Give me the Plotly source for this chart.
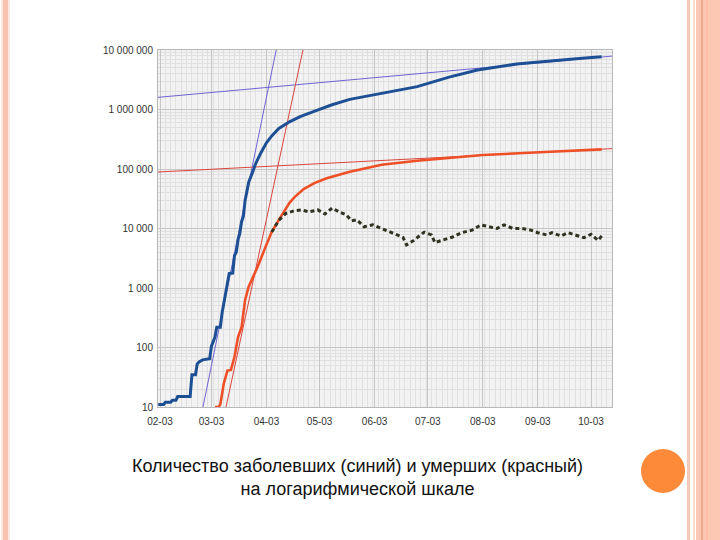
import plotly.graph_objects as go

# ---------------- data ----------------
cases_dates = ["2020-02-02", "2020-02-05", "2020-02-06", "2020-02-09", "2020-02-10", "2020-02-12",
               "2020-02-13", "2020-02-20", "2020-02-21", "2020-02-23", "2020-02-24", "2020-02-25",
               "2020-02-27", "2020-03-02", "2020-03-03", "2020-03-04", "2020-03-05", "2020-03-06",
               "2020-03-08", "2020-03-09", "2020-03-10", "2020-03-11", "2020-03-12", "2020-03-13",
               "2020-03-15", "2020-03-16", "2020-03-17", "2020-03-18", "2020-03-19", "2020-03-20",
               "2020-03-21", "2020-03-22", "2020-03-23", "2020-03-24", "2020-03-26", "2020-03-28",
               "2020-03-31", "2020-04-03", "2020-04-06", "2020-04-10", "2020-04-16", "2020-04-22",
               "2020-05-01", "2020-05-10", "2020-05-20", "2020-06-07", "2020-06-27", "2020-07-15",
               "2020-07-31", "2020-08-22", "2020-09-10", "2020-09-28", "2020-10-09"]
cases = [11, 11, 12, 12, 13, 13,
         15, 15, 35, 35, 53, 57,
         62, 65, 105, 125, 150, 220,
         220, 380, 560, 850, 1300, 1750,
         1780, 3500, 4000, 6500, 8300, 13000,
         16000, 30000, 42000, 60000, 85000, 125000,
         190000, 275000, 360000, 480000, 620000, 760000,
         960000, 1200000, 1480000, 1870000, 2420000, 3500000,
         4600000, 5800000, 6600000, 7250000, 7700000]

deaths_dates = ["2020-03-05", "2020-03-07", "2020-03-08", "2020-03-09", "2020-03-10", "2020-03-12",
                "2020-03-14", "2020-03-16", "2020-03-18", "2020-03-20", "2020-03-22", "2020-03-24",
                "2020-03-29", "2020-04-02", "2020-04-06", "2020-04-10", "2020-04-13", "2020-04-16",
                "2020-04-19", "2020-04-24", "2020-04-30", "2020-05-07", "2020-05-20", "2020-06-07",
                "2020-06-27", "2020-08-03", "2020-09-10", "2020-10-09"]
deaths = [10, 10, 11, 18, 25, 41,
          42, 70, 150, 220, 630, 1050,
          2250, 4500, 8800, 14000, 20000, 27000,
          34000, 46000, 58000, 70000, 90000, 118000,
          138000, 172000, 195000, 214000]

daily_dates = ["2020-04-06", "2020-04-10", "2020-04-14", "2020-04-19", "2020-04-23", "2020-04-27",
               "2020-05-02", "2020-05-06", "2020-05-10", "2020-05-14", "2020-05-18", "2020-05-21",
               "2020-05-24", "2020-05-28", "2020-06-02", "2020-06-07", "2020-06-13", "2020-06-19",
               "2020-06-21", "2020-06-25", "2020-07-01", "2020-07-05", "2020-07-07", "2020-07-11",
               "2020-07-17", "2020-07-22", "2020-07-28", "2020-08-02", "2020-08-07", "2020-08-11",
               "2020-08-15", "2020-08-20", "2020-08-25", "2020-08-30", "2020-09-03", "2020-09-08",
               "2020-09-11", "2020-09-16", "2020-09-20", "2020-09-25", "2020-09-29", "2020-10-03",
               "2020-10-07", "2020-10-09"]
daily = [8700, 13800, 18000, 20000, 20500, 19000,
         20500, 17500, 22000, 19000, 17000, 13500,
         14000, 10700, 11500, 10000, 8500, 7100,
         5300, 6300, 8700, 7800, 5800, 6300,
         7200, 8500, 9400, 11500, 10700, 10000,
         11500, 10000, 10000, 9400, 8500, 7800,
         8500, 7500, 8500, 7500, 7000, 8000,
         6300, 7500]

# trend lines (endpoints)
cases_fast_dates = ["2020-02-27 05:00", "2020-04-08 12:00"]
cases_fast = [10, 10000000]
cases_slow_dates = ["2020-02-01 21:00", "2020-10-14 20:00"]
cases_slow = [1600000, 7900000]
deaths_fast_dates = ["2020-03-11 05:00", "2020-04-23 14:00"]
deaths_fast = [10, 10000000]
deaths_slow_dates = ["2020-02-01 21:00", "2020-10-14 20:00"]
deaths_slow = [89000, 220000]

x_tickvals = ["2020-02-03", "2020-03-03", "2020-04-03", "2020-05-03", "2020-06-03",
              "2020-07-03", "2020-08-03", "2020-09-03", "2020-10-03"]
x_ticktext = ["02-03", "03-03", "04-03", "05-03", "06-03", "07-03", "08-03", "09-03", "10-03"]
y_tickvals = [10, 100, 1000, 10000, 100000, 1000000, 10000000]
y_ticktext = ["10", "100", "1 000", "10 000", "100 000", "1 000 000", "10 000 000"]

caption = "Количество заболевших (синий) и умерших (красный)<br>на логарифмической шкале"

# ---------------- figure ----------------
W, H = 720, 540
L, R, T, B = 158, 612, 50, 407


def px(xp):
    return (xp - L) / (R - L)


def py(yp):
    return (B - yp) / (B - T)


fig = go.Figure()
fig.add_trace(go.Scatter(x=cases_slow_dates, y=cases_slow, mode="lines",
                         line=dict(color="#6f63d6", width=1)))
fig.add_trace(go.Scatter(x=cases_fast_dates, y=cases_fast, mode="lines",
                         line=dict(color="#6f63d6", width=1)))
fig.add_trace(go.Scatter(x=deaths_slow_dates, y=deaths_slow, mode="lines",
                         line=dict(color="#d9453c", width=1)))
fig.add_trace(go.Scatter(x=deaths_fast_dates, y=deaths_fast, mode="lines",
                         line=dict(color="#d9453c", width=1)))
fig.add_trace(go.Scatter(x=cases_dates, y=cases, mode="lines",
                         line=dict(color="#1d4f94", width=3)))
fig.add_trace(go.Scatter(x=deaths_dates, y=deaths, mode="lines",
                         line=dict(color="#ee4f26", width=2.6)))
fig.add_trace(go.Scatter(x=daily_dates, y=daily, mode="lines",
                         line=dict(color="#2e3322", width=3, dash="4px,3px")))

tickfont = dict(family="Liberation Sans, Arial, sans-serif", size=10, color="#333333")

fig.update_xaxes(type="date", range=["2020-02-01 21:00", "2020-10-14 20:00"],
                 tickmode="array", tickvals=x_tickvals, ticktext=x_ticktext,
                 tickfont=tickfont, ticks="", ticklabelstandoff=5,
                 showgrid=True, gridcolor="#c6c6c6", gridwidth=1,
                 minor=dict(showgrid=True, gridcolor="#e0e0e0", gridwidth=1,
                            tick0="2020-02-03", dtick=86400000 * 3),
                 showline=True, linecolor="#b8b8b8", linewidth=1, mirror=True, zeroline=False)
fig.update_yaxes(type="log", range=[1, 7], tickmode="array",
                 tickvals=y_tickvals, ticktext=y_ticktext,
                 tickfont=tickfont, ticks="", ticklabelstandoff=2,
                 showgrid=True, gridcolor="#c6c6c6", gridwidth=1,
                 minor=dict(showgrid=True, gridcolor="#e0e0e0", gridwidth=1, dtick="D1"),
                 showline=True, linecolor="#b8b8b8", linewidth=1, mirror=True, zeroline=False)

shapes = []
# left stripe
shapes.append(dict(type="rect", xref="paper", yref="paper", x0=px(1), x1=px(10), y0=py(540), y1=py(0),
                   fillcolor="#fde7df", line=dict(width=0), layer="above"))
shapes.append(dict(type="rect", xref="paper", yref="paper", x0=px(3), x1=px(8), y0=py(540), y1=py(0),
                   fillcolor="#f7c3b1", line=dict(width=0), layer="above"))
# right stripes
for x0, x1, col in [(687, 690, "#f6c7b7"), (693, 695, "#fbd9cc"), (696, 720, "#fdc8b3"),
                    (701, 703, "#f0a88e"), (706, 708, "#fbbfa8")]:
    shapes.append(dict(type="rect", xref="paper", yref="paper", x0=px(x0), x1=px(x1),
                       y0=py(540), y1=py(0), fillcolor=col, line=dict(width=0), layer="above"))
# orange circle
shapes.append(dict(type="circle", xref="paper", yref="paper", x0=px(641), x1=px(685),
                   y0=py(493), y1=py(449), fillcolor="#fd8a38", line=dict(width=0), layer="above"))

fig.update_layout(
    width=W, height=H,
    margin=dict(l=L, r=W - R, t=T, b=H - B),
    paper_bgcolor="white", plot_bgcolor="#f2f2f2",
    showlegend=False,
    shapes=shapes,
    annotations=[dict(text=caption, xref="paper", yref="paper", x=px(357), y=py(477),
                      xanchor="center", yanchor="middle", showarrow=False, align="center",
                      font=dict(family="Liberation Sans, Arial, sans-serif", size=18, color="#111111"))],
)

fig.write_html("out.html")
